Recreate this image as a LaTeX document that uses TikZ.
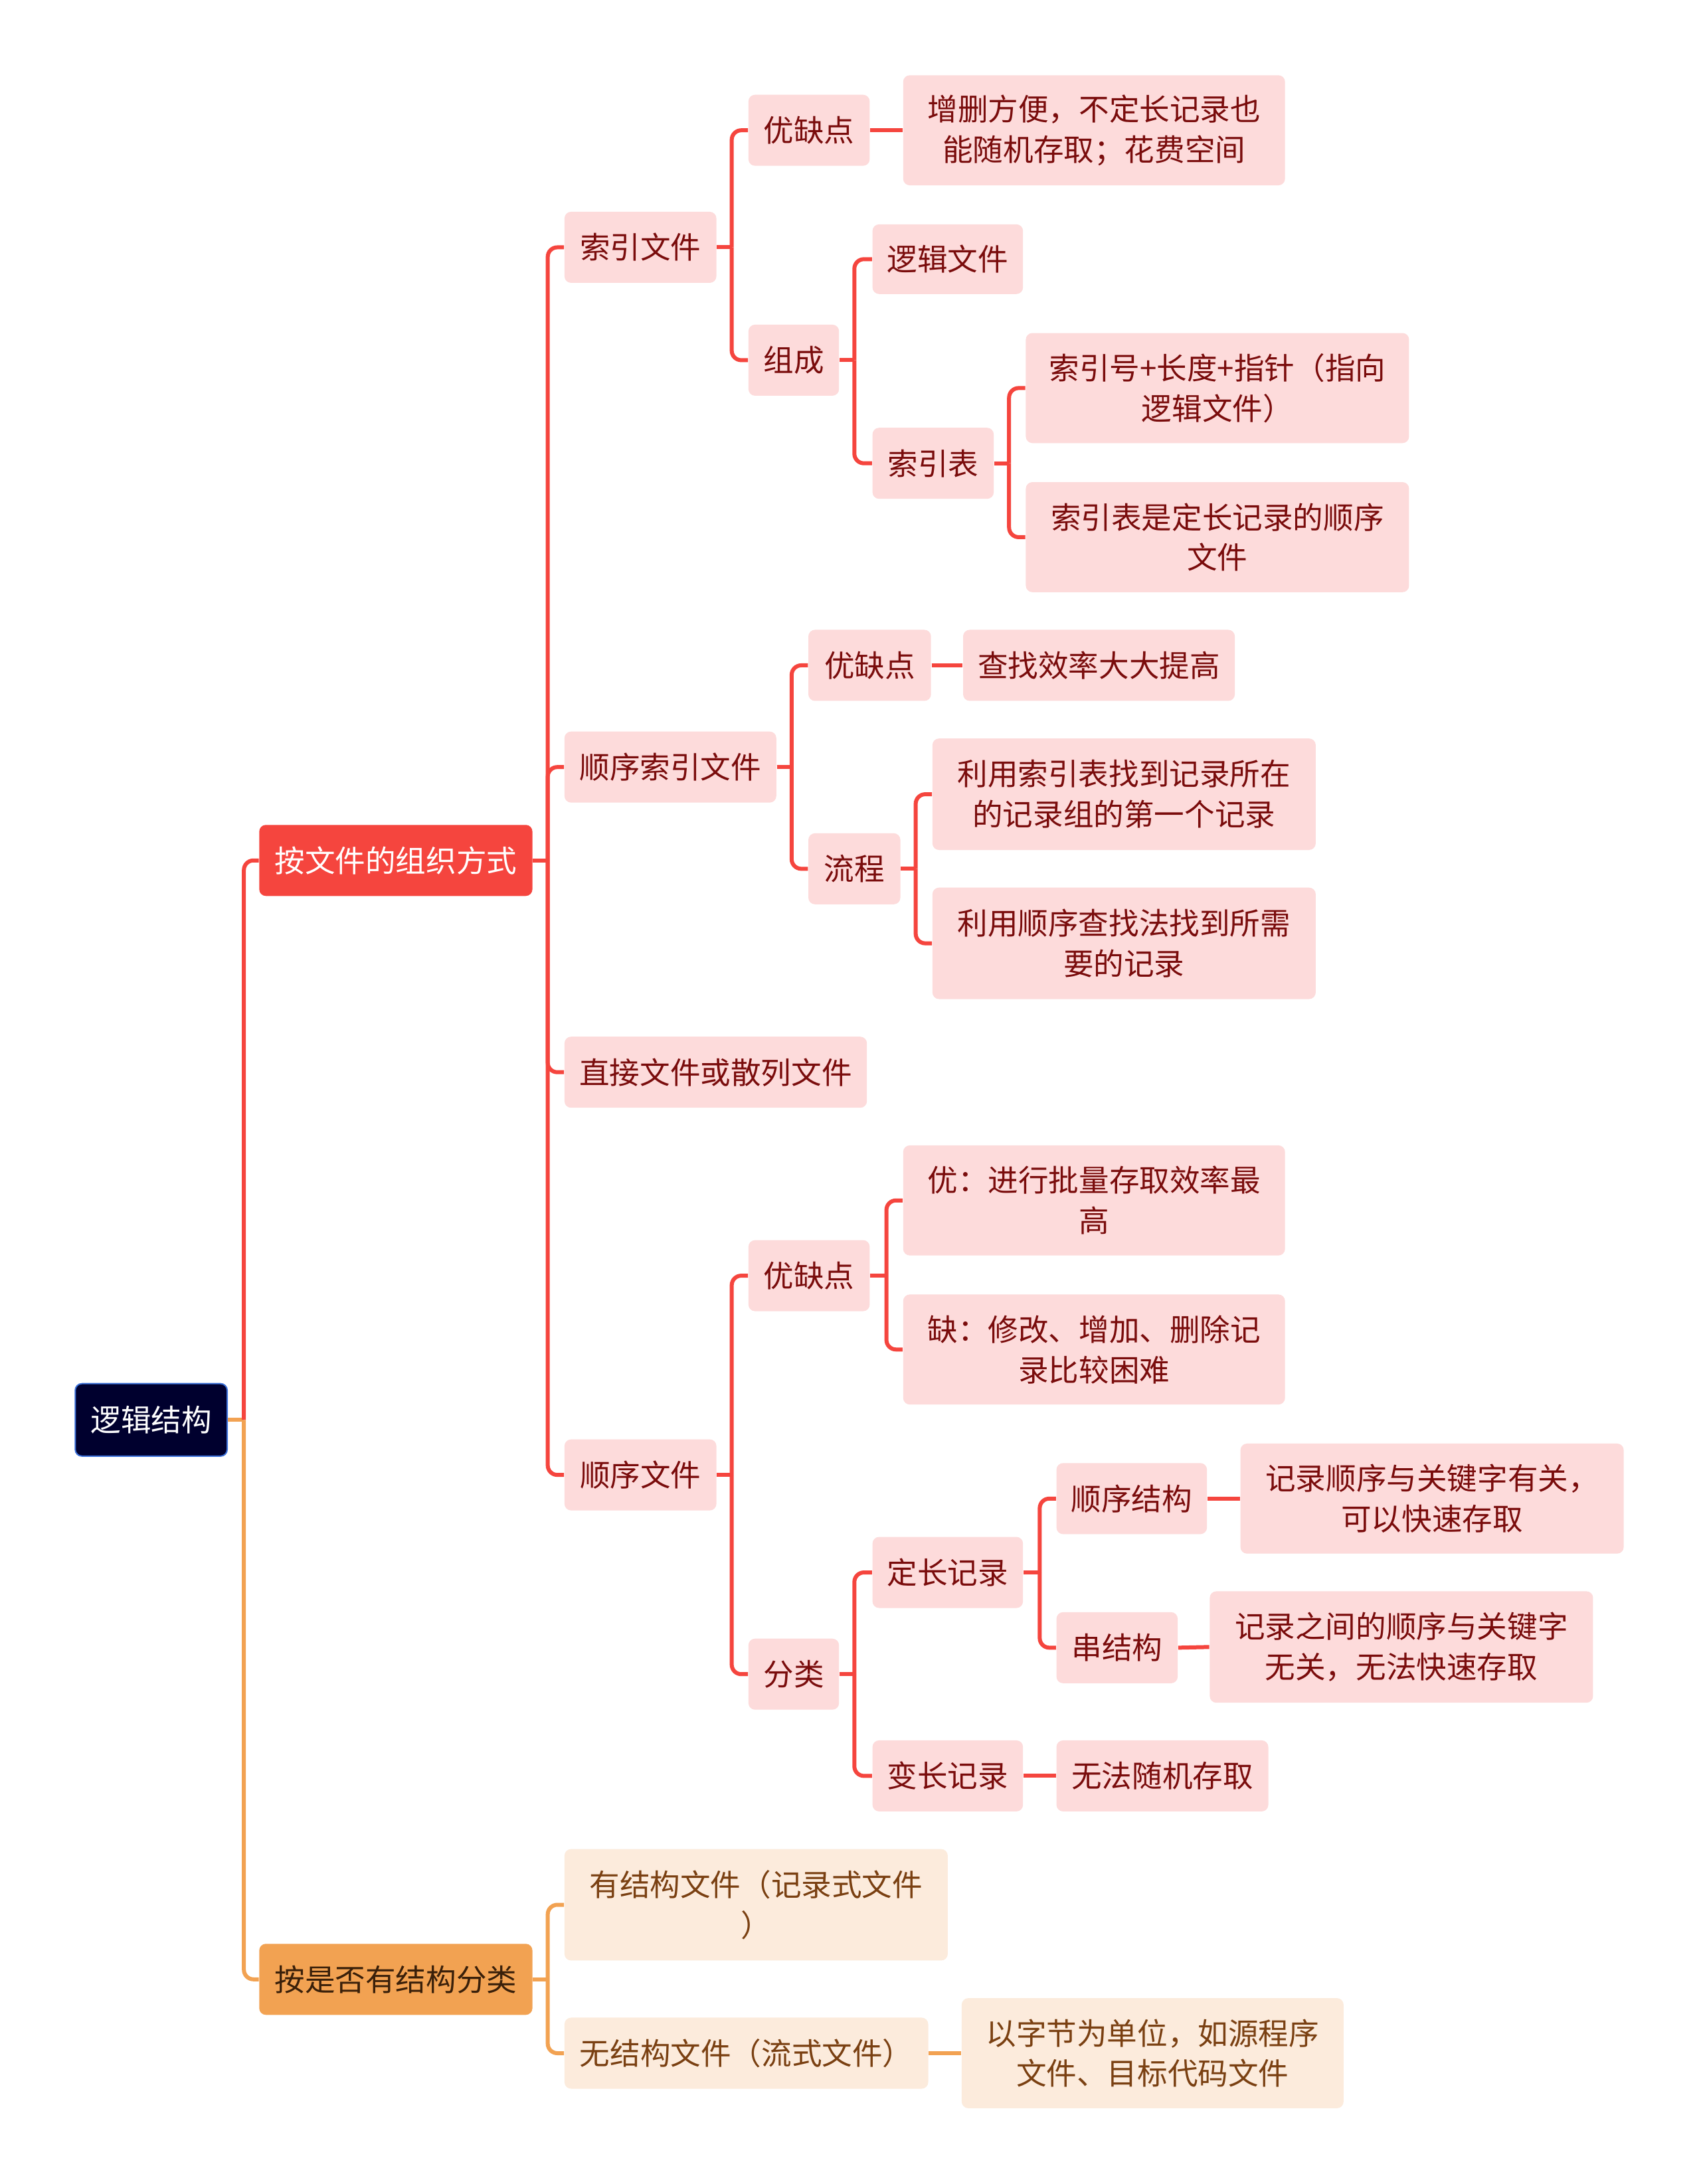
\documentclass[tikz,border=0pt]{standalone}
\usepackage{fontspec}
\setmainfont{Noto Sans CJK SC}
\definecolor{rootfill}{HTML}{00002E}
\definecolor{rootline}{HTML}{3A6FD8}
\definecolor{redmain}{HTML}{F5453E}
\definecolor{orgmain}{HTML}{F2A252}
\definecolor{pinkfill}{HTML}{FDDBDB}
\definecolor{pinktext}{HTML}{7A0C0C}
\definecolor{creamfill}{HTML}{FCEBDC}
\definecolor{creamtext}{HTML}{7A4012}
\definecolor{orgtext}{HTML}{3A200A}
\newcommand\bx[7]{\node[#1, minimum width={(#4-#2)*0.5246pt}, minimum height={(#5-#3)*0.5246pt}] (#6) at ({(#2+#4)/2},{(#3+#5)/2}) {#7};}
\newcommand\br[4]{%
  \coordinate (tk) at (#4,0);
  \draw[#1] (#2.east) -- (#2.east -| tk);
  \draw[#1, rounded corners=3.6pt] (#2.east -| tk) -- (#3.west -| tk) -- (#3.west);}
\newcommand\st[3]{\draw[#1] (#2.east) -- (#3.west);}
\begin{document}
\begin{tikzpicture}[x=0.5246pt,y=-0.5246pt,
  base/.style={rectangle, rounded corners=2.5pt, inner sep=0pt, align=center, font=\fontsize{11.4pt}{15.2pt}\selectfont},
  rootbox/.style={base, fill=rootfill, draw=rootline, line width=0.5pt, text=white},
  redbox/.style={base, fill=redmain, text=white},
  orgbox/.style={base, fill=orgmain, text=orgtext},
  pbox/.style={base, fill=pinkfill, text=pinktext},
  cbox/.style={base, fill=creamfill, text=creamtext},
  rl/.style={draw=redmain, line width=1.5pt},
  ol/.style={draw=orgmain, line width=1.5pt}]
\useasboundingbox (0,0) rectangle (1220,1567.4);
\fill[white] (0,0) rectangle (1220,1567.4);
% nodes
\bx{rootbox}{54}{993}{163}{1045}{root}{逻辑结构}
\bx{redbox}{186}{592}{382}{643}{a}{按文件的组织方式}
\bx{orgbox}{186}{1395}{382}{1446}{b}{按是否有结构分类}
\bx{pbox}{405}{152}{514}{203}{a1}{索引文件}
\bx{pbox}{405}{525}{557}{576}{a2}{顺序索引文件}
\bx{pbox}{405}{744}{622}{795}{a3}{直接文件或散列文件}
\bx{pbox}{405}{1033}{514}{1084}{a4}{顺序文件}
\bx{pbox}{537}{68}{624}{119}{a1a}{优缺点}
\bx{pbox}{648}{54}{922}{133}{a1aa}{增删方便，不定长记录也\\能随机存取；花费空间}
\bx{pbox}{537}{233}{602}{284}{a1b}{组成}
\bx{pbox}{626}{161}{734}{211}{a1b1}{逻辑文件}
\bx{pbox}{626}{307}{713}{358}{a1b2}{索引表}
\bx{pbox}{736}{239}{1011}{318}{a1b2a}{索引号+长度+指针（指向\\逻辑文件）}
\bx{pbox}{736}{346}{1011}{425}{a1b2b}{索引表是定长记录的顺序\\文件}
\bx{pbox}{580}{452}{668}{503}{a2a}{优缺点}
\bx{pbox}{691}{452}{886}{503}{a2aa}{查找效率大大提高}
\bx{pbox}{580}{598}{646}{649}{a2b}{流程}
\bx{pbox}{669}{530}{944}{610}{a2b1}{利用索引表找到记录所在\\的记录组的第一个记录}
\bx{pbox}{669}{637}{944}{717}{a2b2}{利用顺序查找法找到所需\\要的记录}
\bx{pbox}{537}{890}{624}{941}{a4a}{优缺点}
\bx{pbox}{648}{822}{922}{901}{a4a1}{优：进行批量存取效率最\\高}
\bx{pbox}{648}{929}{922}{1008}{a4a2}{缺：修改、增加、删除记\\录比较困难}
\bx{pbox}{537}{1176}{602}{1227}{a4b}{分类}
\bx{pbox}{626}{1103}{734}{1154}{a4b1}{定长记录}
\bx{pbox}{758}{1050}{866}{1101}{a4b1a}{顺序结构}
\bx{pbox}{890}{1036}{1165}{1115}{a4b1aa}{记录顺序与关键字有关，\\可以快速存取}
\bx{pbox}{758}{1157}{845}{1208}{a4b1b}{串结构}
\bx{pbox}{868}{1142}{1143}{1222}{a4b1ba}{记录之间的顺序与关键字\\无关，无法快速存取}
\bx{pbox}{626}{1249}{734}{1300}{a4b2}{变长记录}
\bx{pbox}{758}{1249}{910}{1300}{a4b2a}{无法随机存取}
\bx{cbox}{405}{1327}{680}{1407}{b1}{有结构文件（记录式文件\\）}
\bx{cbox}{405}{1448}{666}{1499}{b2}{无结构文件（流式文件）}
\bx{cbox}{690}{1434}{964}{1513}{b2a}{以字节为单位，如源程序\\文件、目标代码文件}
% root connectors
\coordinate (rt) at (175,0);
\draw[ol] (root.east) -- (root.east -| rt);
\draw[rl, rounded corners=3.6pt] (root.east -| rt) -- (a.west -| rt) -- (a.west);
\draw[ol, rounded corners=3.6pt] (root.east -| rt) -- (b.west -| rt) -- (b.west);
% red branch
\br{rl}{a}{a1}{393}
\br{rl}{a}{a2}{393}
\br{rl}{a}{a3}{393}
\br{rl}{a}{a4}{393}
\br{rl}{a1}{a1a}{525}
\br{rl}{a1}{a1b}{525}
\st{rl}{a1a}{a1aa}
\br{rl}{a1b}{a1b1}{613}
\br{rl}{a1b}{a1b2}{613}
\br{rl}{a1b2}{a1b2a}{724}
\br{rl}{a1b2}{a1b2b}{724}
\br{rl}{a2}{a2a}{568}
\br{rl}{a2}{a2b}{568}
\st{rl}{a2a}{a2aa}
\br{rl}{a2b}{a2b1}{657}
\br{rl}{a2b}{a2b2}{657}
\br{rl}{a4}{a4a}{525}
\br{rl}{a4}{a4b}{525}
\br{rl}{a4a}{a4a1}{636}
\br{rl}{a4a}{a4a2}{636}
\br{rl}{a4b}{a4b1}{613}
\br{rl}{a4b}{a4b2}{613}
\br{rl}{a4b1}{a4b1a}{746}
\br{rl}{a4b1}{a4b1b}{746}
\st{rl}{a4b1a}{a4b1aa}
\st{rl}{a4b1b}{a4b1ba}
\st{rl}{a4b2}{a4b2a}
% orange branch
\br{ol}{b}{b1}{393}
\br{ol}{b}{b2}{393}
\st{ol}{b2}{b2a}
\end{tikzpicture}
\end{document}
